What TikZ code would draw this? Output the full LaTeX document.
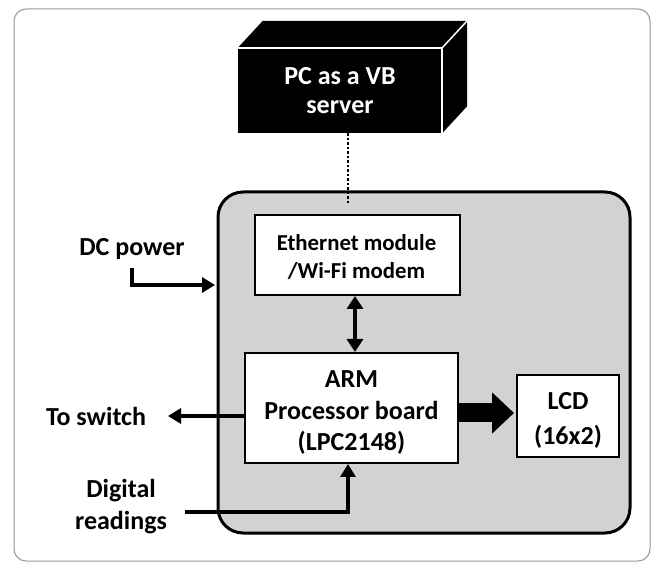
\documentclass[tikz,border=0pt]{standalone}
\usepackage{fontspec}
\setmainfont{Carlito}
\usetikzlibrary{arrows.meta,calc}
\definecolor{panel}{RGB}{210,210,210}
\definecolor{frame}{RGB}{150,150,150}
\tikzset{
  blk/.style={draw=black,line width=2pt,fill=white,align=center,inner sep=0pt,
    font=\bfseries\fontsize{26}{31}\selectfont},
  lbl/.style={align=center,inner sep=0pt,font=\bfseries\fontsize{26}{32}\selectfont},
  conn/.style={line width=3.5pt,-{Triangle[length=13pt,width=15pt]}},
}
\begin{document}
\begin{tikzpicture}[x=1pt,y=-1pt]
\useasboundingbox (0,0) rectangle (657,564);
% outer frame
\draw[frame,line width=1pt,rounded corners=12pt] (14,9) rectangle (650,561);
% gray panel
\node[draw=black,line width=3pt,fill=panel,rounded corners=25pt,minimum width=412pt,minimum height=341pt,inner sep=0pt] (panel) at (424,362.5) {};
% PC cube
\node[fill=black,text=white,minimum width=204pt,minimum height=85pt,inner sep=0pt,align=center,
  font=\bfseries\fontsize{26}{29}\selectfont] (pc) at (340,90.5) {PC as a VB\\server};
\fill[black] (pc.north west) -- ++(25,-27) -- ($(pc.north east)+(25,-27)$) -- (pc.north east) -- cycle;
\fill[black] (pc.north east) -- ++(25,-27) -- ($(pc.south east)+(25,-27)$) -- (pc.south east) -- cycle;
\draw[white,line width=1.5pt] (pc.north west) -- (pc.north east) -- (pc.south east);
\draw[white,line width=1.5pt] (pc.north east) -- ++(25,-27);
% blocks
\node[blk,minimum width=205pt,minimum height=80pt] (eth) at (357.5,255) {};
\node[lbl,font=\bfseries\fontsize{22.8}{27.5}\selectfont] (ethtext) at ($(eth.center)+(-1,2)$) {Ethernet module\\/Wi-Fi modem};
\node[blk,minimum width=213pt,minimum height=110pt] (arm) at (351.5,408) {};
\node[lbl,font=\bfseries\fontsize{26}{31.5}\selectfont] (armtext) at ($(arm.center)+(0,5)$) {ARM\\Processor board\\(LPC2148)};
\node[blk,minimum width=102pt,minimum height=82pt] (lcd) at (568,416) {};
\node[lbl,font=\bfseries\fontsize{26}{35}\selectfont] (lcdtext) at ($(lcd.center)+(0,4)$) {LCD\\(16x2)};
% dotted link
\coordinate (dotend) at (348,205);
\draw[line width=2.5pt,dash pattern=on 2.5pt off 2pt] (pc.south -| dotend) -- (dotend);
% double arrow
\draw[line width=3.5pt,{Triangle[length=13pt,width=16pt]}-{Triangle[length=13pt,width=16pt]}] ($(eth.south)+(-2.5,0)$) -- ($(arm.north)+(3.5,0)$);
% fat arrow
\draw[line width=19pt,-{Triangle[length=22pt,width=40pt]}] ($(arm.east)+(0,5)$) -- ($(lcd.west)+(-2,-3)$);
% labels
\node[lbl] (dc) at (132,249) {DC power};
\node[lbl] (sw) at (96,416) {To switch};
\node[lbl] (dig) at (121,507) {Digital\\readings};
% DC power arrow
\coordinate (dcs) at (132,268);
\coordinate (dce) at (215,285);
\draw[conn] (dcs) |- (dce);
% to switch
\coordinate (swe) at (168,416);
\draw[conn] (arm.west |- swe) -- (swe);
% digital readings
\coordinate (drs) at (185,512);
\draw[conn] (drs) -| ($(arm.south)+(-3.5,0)$);
\end{tikzpicture}
\end{document}
